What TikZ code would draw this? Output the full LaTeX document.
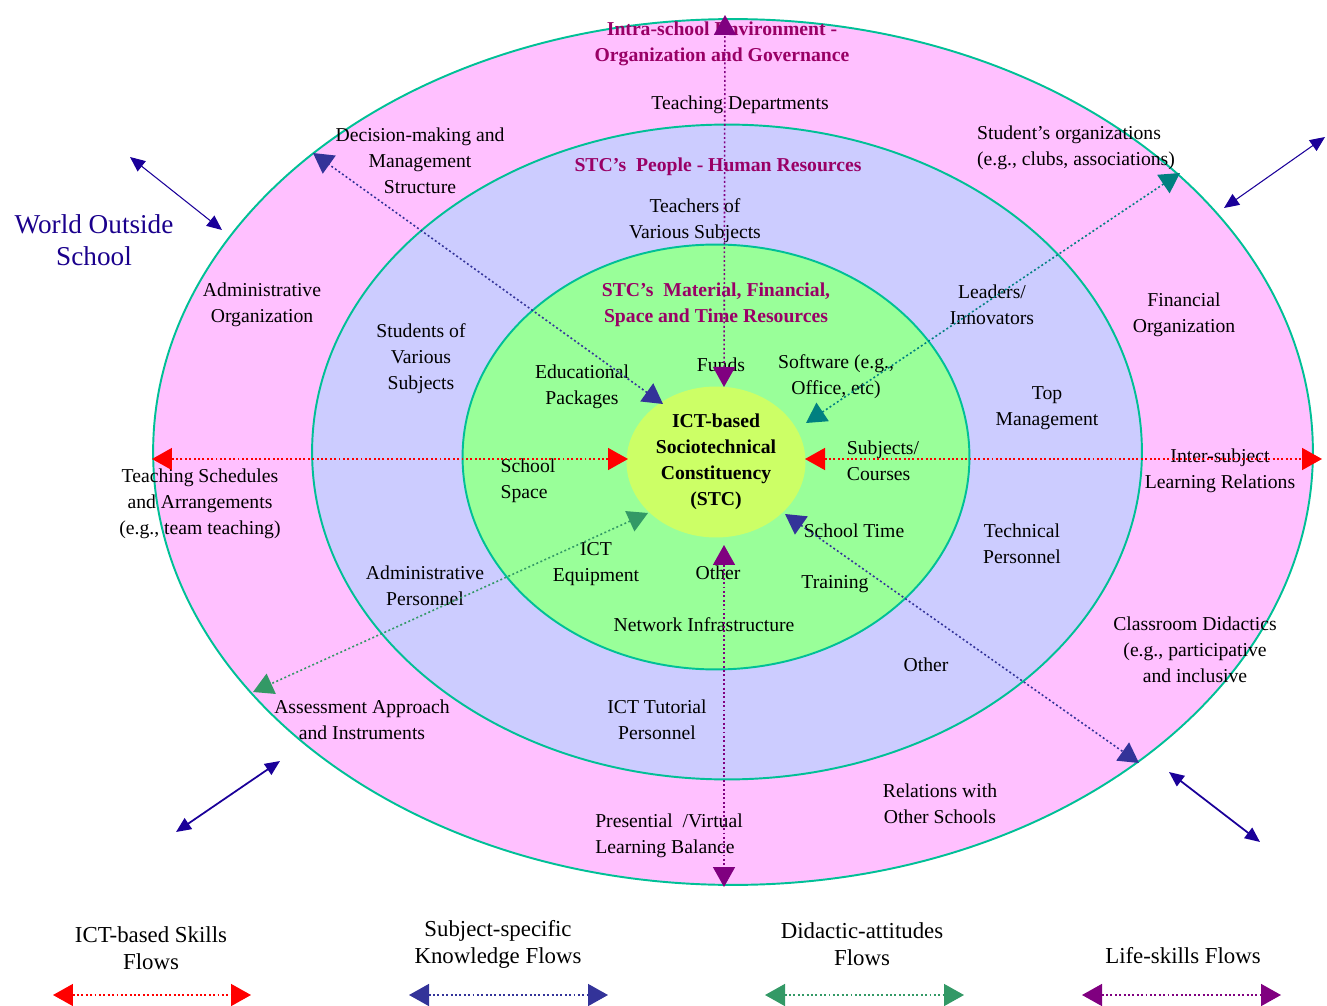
\documentclass[tikz,border=0pt]{standalone}
\usepackage{fontspec}
\setmainfont{Liberation Serif}
\usetikzlibrary{arrows.meta}
\usetikzlibrary{shapes.geometric}
\definecolor{ringOuter}{RGB}{255,192,255}
\definecolor{ringPeople}{RGB}{204,204,255}
\definecolor{ringMaterial}{RGB}{153,255,153}
\definecolor{stcCore}{RGB}{204,255,102}
\definecolor{ringLine}{RGB}{0,192,150}
\definecolor{titleMag}{RGB}{153,0,102}
\definecolor{worldBlue}{RGB}{26,0,140}
\definecolor{flowRed}{RGB}{255,0,0}
\definecolor{flowBlue}{RGB}{51,51,153}
\definecolor{flowTeal}{RGB}{0,128,128}
\definecolor{flowGreen}{RGB}{51,153,102}
\definecolor{flowPurple}{RGB}{128,0,128}
\definecolor{outNavy}{RGB}{26,0,153}
\begin{document}
\begin{tikzpicture}[x=0.02cm,y=-0.02cm,
  lbl/.style={font=\fontsize{11.2}{14.8}\selectfont,align=center,inner sep=1pt,yshift=-0.05cm},
  lblL/.style={lbl,align=left},
  hdr/.style={lbl,font=\fontsize{11.2}{14.8}\selectfont\bfseries,text=titleMag},
  legtxt/.style={lbl,font=\fontsize{13}{15.4}\selectfont},
  ring/.style={ellipse,draw=ringLine,line width=1.1pt,inner sep=0pt},
  flow/.style={draw=#1,line width=0.9pt,dash pattern=on 1.1pt off 1.4pt,{Triangle[length=0.4cm,width=0.44cm]}-{Triangle[length=0.4cm,width=0.44cm]}},
  outflow/.style={draw=outNavy,line width=#1,{Triangle[length=0.3cm,width=0.26cm]}-{Triangle[length=0.3cm,width=0.26cm]}}]
\useasboundingbox (0,0) rectangle (1327,1006);

\node[ring,fill=ringOuter,minimum width=23.2cm,minimum height=17.32cm] (outerRing) at (733,452) {};
\node[ring,fill=ringPeople,minimum width=16.6cm,minimum height=13.1cm] (peopleRing) at (727,452) {};
\node[ring,fill=ringMaterial,minimum width=10.14cm,minimum height=8.5cm] (materialRing) at (716,457) {};
\node[ellipse,fill=stcCore,inner sep=0pt,minimum width=3.58cm,minimum height=3.02cm,align=center,font=\fontsize{11.2}{14.8}\selectfont\bfseries] (stc) at (716,462) {ICT-based\\Sociotechnical\\Constituency\\(STC)};

\node[hdr] (tIntra) at (722,41) {Intra-school Environment -\\Organization and Governance};
\node[hdr] (tPeople) at (718,164) {STC’s~~People - Human Resources};
\node[hdr] (tMaterial) at (716,302) {STC’s~~Material, Financial,\\Space and Time Resources};

\node[lbl,font=\fontsize{15.5}{18.2}\selectfont,text=worldBlue] (tWorld) at (94,238) {World Outside\\School};

\node[lbl] (tTeachDep) at (740,102) {Teaching Departments};
\node[lbl] (tDecision) at (420,158) {Decision-making and\\Management\\Structure};
\node[lblL] (tStudOrg) at (1076,145) {Student’s organizations\\(e.g., clubs, associations)};
\node[lbl] (tTeachers) at (695,218) {Teachers of\\Various Subjects};
\node[lbl] (tAdminOrg) at (262,302) {Administrative\\Organization};
\node[lbl] (tLeaders) at (992,302) {Leaders/\\Innovators};
\node[lbl] (tFinancial) at (1184,312) {Financial\\Organization};
\node[lbl] (tStudents) at (421,356) {Students of\\Various\\Subjects};
\node[lbl] (tEduPack) at (582,384) {Educational\\Packages};
\node[lbl] (tFunds) at (721,362) {Funds};
\node[lbl] (tSoftware) at (836,374) {Software (e.g.,\\Office, etc)};
\node[lbl] (tTopMan) at (1047,406) {Top\\Management};
\node[lblL] (tSubjects) at (883,458) {Subjects/\\Courses};
\node[lbl] (tInterSub) at (1220,468) {Inter-subject\\Learning Relations};
\node[lbl] (tSchedules) at (200,501) {Teaching Schedules\\and Arrangements\\(e.g., team teaching)};
\node[lblL] (tSchoolSpace) at (528,478) {School\\Space};
\node[lbl] (tSchoolTime) at (854,528) {School Time};
\node[lbl] (tTechnical) at (1022,541) {Technical\\Personnel};
\node[lbl] (tIctEquip) at (596,562) {ICT\\Equipment};
\node[lbl] (tOtherIn) at (718,570) {Other};
\node[lbl] (tAdminPers) at (425,583) {Administrative\\Personnel};
\node[lbl] (tTraining) at (835,582) {Training};
\node[lbl] (tNetwork) at (704,622) {Network Infrastructure};
\node[lbl] (tClassroom) at (1195,647) {Classroom Didactics\\(e.g., participative\\and inclusive};
\node[lbl] (tOtherMid) at (926,662) {Other};
\node[lbl] (tAssess) at (362,717) {Assessment Approach\\and Instruments};
\node[lbl] (tTutorial) at (657,717) {ICT Tutorial\\Personnel};
\node[lbl] (tRelations) at (940,801) {Relations with\\Other Schools};
\node[lblL] (tPresential) at (669,833) {Presential~~/Virtual\\Learning Balance};

\coordinate (pTop) at (725,15);
\coordinate (pFunds) at (724,387);
\coordinate (pOther) at (724,545);
\coordinate (pBot) at (724,887);
\coordinate (rLeft) at (152,459);
\coordinate (rCoreL) at (628,459);
\coordinate (rCoreR) at (805,459);
\coordinate (rRight) at (1322,459);
\coordinate (bUpLeft) at (313,153);
\coordinate (bCoreUL) at (663,404);
\coordinate (bCoreLR) at (785,514);
\coordinate (bLowRight) at (1139,763);
\coordinate (tCore) at (806,423);
\coordinate (tUpRight) at (1180,173);
\coordinate (gCore) at (648,513);
\coordinate (gLowLeft) at (253,692);

\draw[flow=flowPurple] (pFunds) -- (pTop);
\draw[flow=flowPurple] (pOther) -- (pBot);
\draw[flow=flowRed] (rCoreL) -- (rLeft);
\draw[flow=flowRed] (rCoreR) -- (rRight);
\draw[flow=flowBlue] (bCoreUL) -- (bUpLeft);
\draw[flow=flowBlue] (bCoreLR) -- (bLowRight);
\draw[flow=flowTeal] (tCore) -- (tUpRight);
\draw[flow=flowGreen] (gCore) -- (gLowLeft);

\coordinate (wUL1) at (130,157);
\coordinate (wUL2) at (222,230);
\coordinate (wUR1) at (1325,137);
\coordinate (wUR2) at (1224,208);
\coordinate (wLL1) at (280,761);
\coordinate (wLL2) at (176,832);
\coordinate (wLR1) at (1169,772);
\coordinate (wLR2) at (1260,842);
\draw[outflow=0.6pt] (wUL1) -- (wUL2);
\draw[outflow=0.6pt] (wUR1) -- (wUR2);
\draw[outflow=1pt] (wLL1) -- (wLL2);
\draw[outflow=1pt] (wLR1) -- (wLR2);

\node[legtxt] (legIct) at (151,946) {ICT-based Skills\\Flows};
\node[legtxt] (legSubj) at (498,942) {Subject-specific\\Knowledge Flows};
\node[legtxt] (legDid) at (862,942) {Didactic-attitudes\\Flows};
\node[legtxt] (legLife) at (1183,953) {Life-skills Flows};
\foreach \n/\c/\xa/\xb in {legIct/flowRed/53/251, legSubj/flowBlue/409/608, legDid/flowGreen/765/964, legLife/flowPurple/1082/1281}{
  \coordinate (\n L) at (\xa,995);
  \coordinate (\n R) at (\xb,995);
  \draw[flow=\c] (\n L) -- (\n R);
}

\end{tikzpicture}
\end{document}
